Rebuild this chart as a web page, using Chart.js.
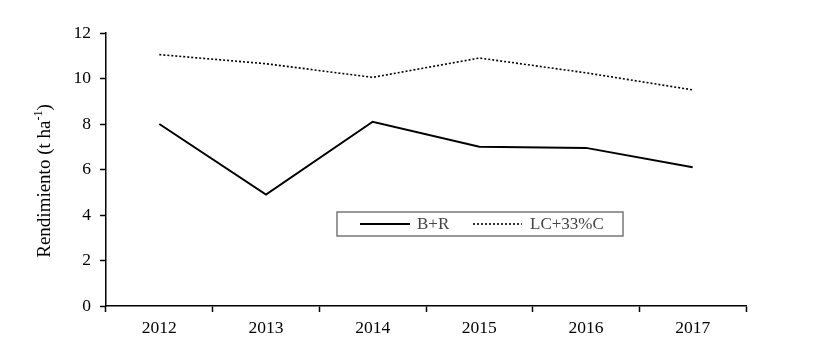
<!DOCTYPE html>
<html>
<head>
<meta charset="utf-8">
<script src="https://cdn.jsdelivr.net/npm/chart.js@4"></script>
<style>
    html, body { margin: 0; padding: 0; background: #fff; }
    #wrap { width: 834px; height: 358px; }
</style>
</head>
<body>
<div id="wrap"><canvas id="yieldChart" width="834" height="358"></canvas></div>
<script>
// Dados do gráfico
const years = ['2012', '2013', '2014', '2015', '2016', '2017'];
const seriesBR = [8.0, 4.9, 8.1, 7.0, 6.95, 6.1];
const seriesLC = [11.05, 10.65, 10.05, 10.9, 10.25, 9.5];
const seriesNames = ['B+R', 'LC+33%C'];
const yTicks = [0, 2, 4, 6, 8, 10, 12];
const yTitle = ['Rendimiento (t ha', '-1', ')'];

const serif = '"Liberation Serif", "Times New Roman", serif';
Chart.defaults.font.family = serif;
Chart.defaults.color = '#000';

// Legenda desenhada dentro da área do gráfico
const boxLegend = {
    id: 'boxLegend',
    afterDraw(chart) {
        const ctx = chart.ctx;
        const area = chart.chartArea;
        const x0 = area.left + 231, y0 = 212, w = 286, h = 24;
        ctx.save();
        ctx.strokeStyle = '#777';
        ctx.lineWidth = 1.5;
        ctx.strokeRect(x0, y0, w, h);
        const cy = y0 + h / 2;
        const items = [
            { ds: chart.data.datasets[0], lx: 360, lw: 50, tx: 417 },
            { ds: chart.data.datasets[1], lx: 473, lw: 49, tx: 530 }
        ];
        ctx.font = '17px ' + serif;
        ctx.textBaseline = 'middle';
        items.forEach(function(it) {
            ctx.beginPath();
            ctx.strokeStyle = it.ds.borderColor;
            ctx.lineWidth = it.ds.borderWidth;
            ctx.setLineDash(it.ds.borderDash || []);
            ctx.moveTo(it.lx, cy);
            ctx.lineTo(it.lx + it.lw, cy);
            ctx.stroke();
            ctx.setLineDash([]);
            ctx.fillStyle = '#444';
            ctx.fillText(it.ds.label, it.tx, cy + 1);
        });
        ctx.restore();
    }
};

// Título do eixo Y com sobrescrito
const yAxisTitle = {
    id: 'yAxisTitle',
    afterDraw(chart) {
        const ctx = chart.ctx;
        ctx.save();
        ctx.translate(45, 181);
        ctx.rotate(-Math.PI / 2);
        ctx.fillStyle = '#000';
        ctx.textBaseline = 'middle';
        const big = '19px ' + serif, small = '12px ' + serif;
        ctx.font = big;
        const w1 = ctx.measureText(yTitle[0]).width;
        const w3 = ctx.measureText(yTitle[2]).width;
        ctx.font = small;
        const w2 = ctx.measureText(yTitle[1]).width;
        let x = -(w1 + w2 + w3) / 2;
        ctx.font = big;
        ctx.fillText(yTitle[0], x, 0);
        x += w1;
        ctx.font = small;
        ctx.fillText(yTitle[1], x, -6);
        x += w2;
        ctx.font = big;
        ctx.fillText(yTitle[2], x, 0);
        ctx.restore();
    }
};

new Chart(document.getElementById('yieldChart').getContext('2d'), {
    type: 'line',
    data: {
        labels: years,
        datasets: [{
            label: seriesNames[0],
            data: seriesBR,
            borderColor: '#000',
            borderWidth: 2,
            pointRadius: 0,
            tension: 0,
            fill: false
        }, {
            label: seriesNames[1],
            data: seriesLC,
            borderColor: '#000',
            borderWidth: 1.6,
            borderDash: [2, 2],
            pointRadius: 0,
            tension: 0,
            fill: false
        }]
    },
    options: {
        responsive: false,
        animation: false,
        layout: { padding: { left: 0, top: 33, right: 88, bottom: 0 } },
        plugins: {
            legend: { display: false },
            tooltip: { enabled: false }
        },
        scales: {
            x: {
                offset: true,
                grid: {
                    offset: true,
                    drawOnChartArea: false,
                    drawTicks: true,
                    tickLength: 6,
                    tickColor: '#000',
                    tickWidth: 1.5
                },
                border: { color: '#000', width: 1.5 },
                ticks: { font: { size: 17.5 }, padding: 6, maxRotation: 0 },
                afterFit: function(scale) { scale.height = 52; }
            },
            y: {
                min: 0,
                max: 12,
                afterBuildTicks: function(scale) {
                    scale.ticks = yTicks.map(function(v) { return { value: v }; });
                },
                grid: {
                    drawOnChartArea: false,
                    drawTicks: true,
                    tickLength: 6,
                    tickColor: '#000',
                    tickWidth: 1.5
                },
                border: { color: '#000', width: 1.5 },
                ticks: { font: { size: 17.5 }, padding: 9 },
                afterFit: function(scale) { scale.width = 106; }
            }
        }
    },
    plugins: [boxLegend, yAxisTitle]
});
</script>
</body>
</html>
